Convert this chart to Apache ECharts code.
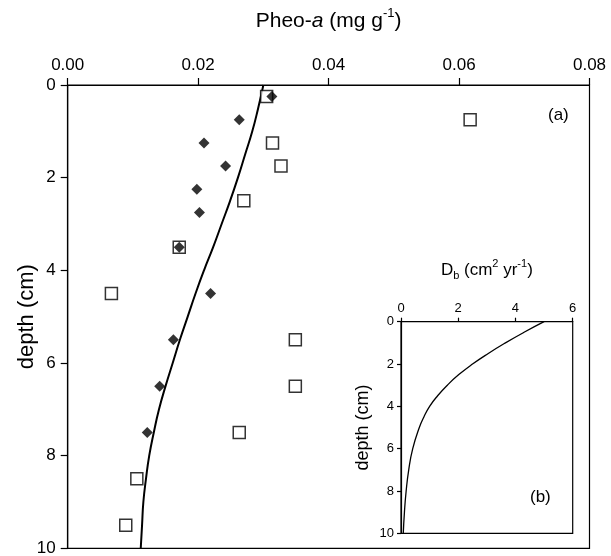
<!DOCTYPE html>
<html>
<head>
<meta charset="utf-8">
<script src="https://cdn.jsdelivr.net/npm/echarts@6/dist/echarts.min.js"></script>
<style>
html,body{margin:0;padding:0;background:#fff;}
#chart{width:611px;height:556px;}
</style>
</head>
<body>
<div id="chart"></div>
<script>
// ---- data ----
const diamondDepth = [0.25, 0.75, 1.25, 1.75, 2.25, 2.75, 3.5, 4.5, 5.5, 6.5, 7.5];
const diamondPheo  = [0.0313, 0.0263, 0.0209, 0.0242, 0.0198, 0.0202, 0.0171, 0.0219, 0.0162, 0.0141, 0.0122];

const squareDepth = [0.25, 0.75, 1.25, 1.75, 2.5, 3.5, 4.5, 5.5, 6.5, 7.5, 8.5, 9.5];
const squarePheo  = [0.0305, 0.0617, 0.0314, 0.0327, 0.0270, 0.0171, 0.0067, 0.0349, 0.0349, 0.0263, 0.0106, 0.0089];

const modelDepth = [0, 0.5, 1, 1.5, 2, 2.5, 3, 3.5, 4, 4.5, 5, 5.5, 6, 6.5, 7, 7.5, 8, 8.5, 9, 9.5, 10];
const modelPheo  = [0.0300, 0.0292, 0.0283, 0.0272, 0.0261, 0.0249, 0.0236, 0.0223, 0.0209, 0.0196, 0.0184, 0.0172, 0.0161, 0.0150, 0.0140, 0.0132, 0.0125, 0.0120, 0.0116, 0.0114, 0.0112];

const dbDepth = [0, 0.5, 1, 1.5, 2, 2.5, 3, 3.5, 4, 4.5, 5, 6, 7, 8, 9, 10];
const dbValue = [5.0, 4.3, 3.65, 3.05, 2.5, 2.02, 1.62, 1.28, 1.0, 0.8, 0.64, 0.41, 0.27, 0.18, 0.12, 0.08];

const mainXTicks = [0, 0.02, 0.04, 0.06, 0.08];
const depthTicks = [0, 2, 4, 6, 8, 10];
const insetXTicks = [0, 2, 4, 6];

// ---- build ----
const FONT = 'Liberation Sans, Arial, sans-serif';
const zip = (xs, ys) => xs.map((x, i) => [x, ys[i]]);

const chart = echarts.init(document.getElementById('chart'), null, {renderer: 'canvas'});

const axisLineStyle = {color: '#000', width: 1.2};

const option = {
  animation: false,
  backgroundColor: '#fff',
  grid: [
    {left: 67.7, top: 85, right: 21.5, bottom: 7.7, containLabel: false, outerBoundsMode: 'none',
     show: true, borderColor: '#000', borderWidth: 1.2, backgroundColor: 'transparent'},
    {left: 401, top: 321.7, right: 38.3, bottom: 22.7, containLabel: false, outerBoundsMode: 'none',
     show: true, borderColor: '#000', borderWidth: 1.2, backgroundColor: 'transparent'}
  ],
  xAxis: [
    {
      gridIndex: 0, type: 'value', position: 'top',
      min: mainXTicks[0], max: mainXTicks[mainXTicks.length - 1], interval: 0.02,
      axisLine: {show: true, lineStyle: axisLineStyle},
      axisTick: {show: true, length: 7, inside: false, lineStyle: axisLineStyle},
      splitLine: {show: false},
      axisLabel: {show: true, margin: 11, fontSize: 17, color: '#000', fontFamily: FONT,
        formatter: v => v.toFixed(2)},
      name: '{n|Pheo-}{i|a}{n| (mg g}{s|-1}{n|)}',
      nameLocation: 'middle', nameGap: 53,
      nameTextStyle: {
        fontFamily: FONT, color: '#000',
        rich: {
          n: {fontSize: 21, fontFamily: FONT, color: '#000', verticalAlign: 'bottom', lineHeight: 25},
          i: {fontSize: 21, fontFamily: FONT, color: '#000', fontStyle: 'italic', verticalAlign: 'bottom', lineHeight: 25},
          s: {fontSize: 13, fontFamily: FONT, color: '#000', verticalAlign: 'top', lineHeight: 25}
        }
      }
    },
    {
      gridIndex: 1, type: 'value', position: 'top',
      min: insetXTicks[0], max: insetXTicks[insetXTicks.length - 1], interval: 2,
      axisLine: {show: true, lineStyle: axisLineStyle},
      axisTick: {show: true, length: 4, lineStyle: axisLineStyle},
      splitLine: {show: false},
      axisLabel: {show: true, margin: 7, fontSize: 13, color: '#000', fontFamily: FONT},
      name: '{n|D}{b|b}{n| (cm}{s|2}{n| yr}{s|-1}{n|)}',
      nameLocation: 'middle', nameGap: 40,
      nameTextStyle: {
        fontFamily: FONT, color: '#000',
        rich: {
          n: {fontSize: 17, fontFamily: FONT, color: '#000', verticalAlign: 'middle', lineHeight: 23},
          b: {fontSize: 11, fontFamily: FONT, color: '#000', verticalAlign: 'bottom', lineHeight: 23},
          s: {fontSize: 11, fontFamily: FONT, color: '#000', verticalAlign: 'top', lineHeight: 23}
        }
      }
    }
  ],
  yAxis: [
    {
      gridIndex: 0, type: 'value', inverse: true,
      min: depthTicks[0], max: depthTicks[depthTicks.length - 1], interval: 2,
      axisLine: {show: true, lineStyle: axisLineStyle},
      axisTick: {show: true, length: 7, lineStyle: axisLineStyle},
      splitLine: {show: false},
      axisLabel: {show: true, margin: 12, fontSize: 17, color: '#000', fontFamily: FONT},
      name: 'depth (cm)', nameLocation: 'middle', nameGap: 30, nameRotate: 90,
      nameMoveOverlap: false,
      nameTextStyle: {fontSize: 22, color: '#000', fontFamily: FONT}
    },
    {
      gridIndex: 1, type: 'value', inverse: true,
      min: depthTicks[0], max: depthTicks[depthTicks.length - 1], interval: 2,
      axisLine: {show: true, lineStyle: axisLineStyle},
      axisTick: {show: true, length: 4, lineStyle: axisLineStyle},
      splitLine: {show: false},
      axisLabel: {show: true, margin: 7, fontSize: 13, color: '#000', fontFamily: FONT},
      name: 'depth (cm)', nameLocation: 'middle', nameGap: 29, nameRotate: 90,
      nameTextStyle: {fontSize: 18, color: '#000', fontFamily: FONT}
    }
  ],
  series: [
    {
      type: 'line', xAxisIndex: 0, yAxisIndex: 0,
      data: zip(modelPheo, modelDepth),
      smooth: true, showSymbol: false, symbol: 'none',
      lineStyle: {color: '#000', width: 2}, z: 2
    },
    {
      type: 'scatter', xAxisIndex: 0, yAxisIndex: 0,
      data: zip(squarePheo, squareDepth),
      symbol: 'rect', symbolSize: 12,
      itemStyle: {color: '#fff', borderColor: '#000', borderWidth: 1.5}, z: 3
    },
    {
      type: 'scatter', xAxisIndex: 0, yAxisIndex: 0,
      data: zip(diamondPheo, diamondDepth),
      symbol: 'diamond', symbolSize: [11, 11],
      itemStyle: {color: '#000'}, z: 4
    },
    {
      type: 'line', xAxisIndex: 1, yAxisIndex: 1,
      data: zip(dbValue, dbDepth),
      smooth: true, showSymbol: false, symbol: 'none',
      lineStyle: {color: '#000', width: 1.3}, z: 2
    }
  ],
  graphic: [
    {type: 'text', left: 548, top: 107, style: {text: '(a)', font: '17px ' + FONT, fill: '#000'}},
    {type: 'text', left: 530, top: 489, style: {text: '(b)', font: '17px ' + FONT, fill: '#000'}}
  ]
};
chart.setOption(option);
</script>
</body>
</html>
